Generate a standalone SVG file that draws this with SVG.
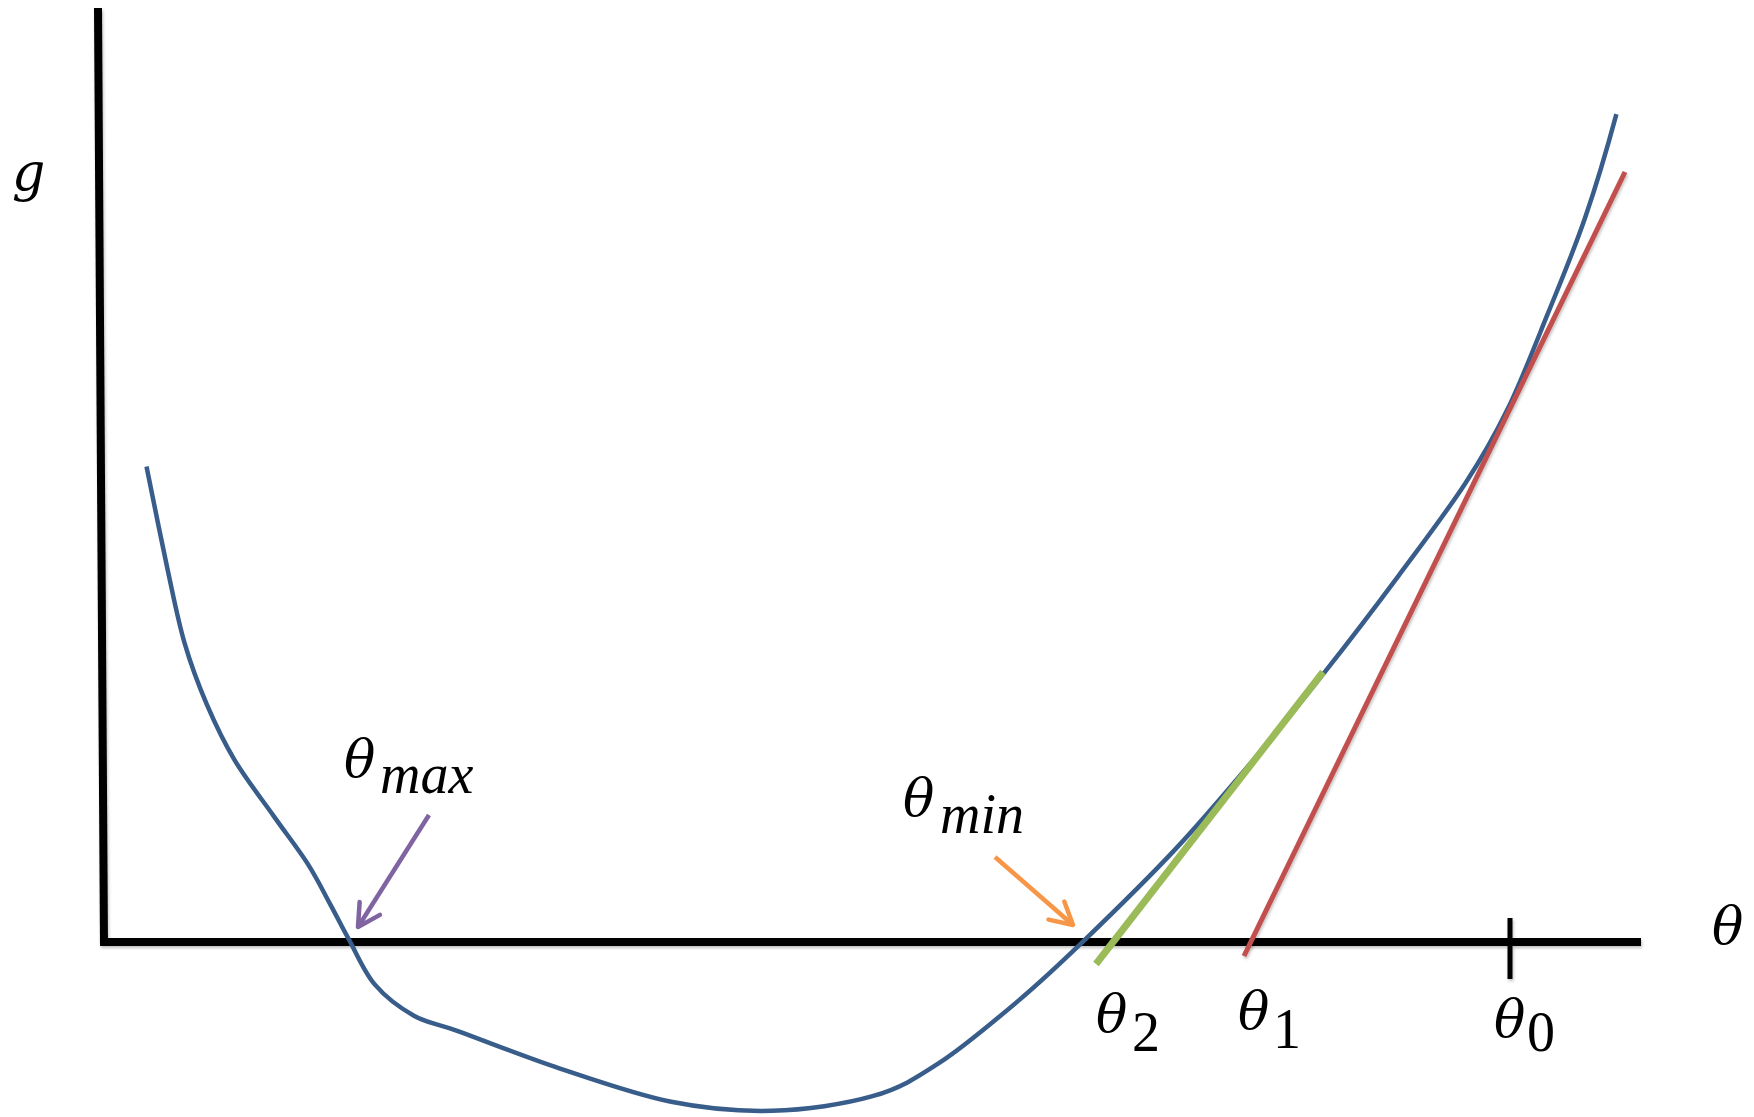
<svg xmlns="http://www.w3.org/2000/svg" width="1754" height="1117" viewBox="0 0 1754 1117">
<style>
.ax{stroke:#000;stroke-width:8;fill:none;stroke-linecap:butt}
.tick{stroke:#000;stroke-width:5;fill:none}
.curve{stroke:#385D8A;stroke-width:4.5;fill:none;stroke-linecap:butt}
.red{stroke:#C0504D;stroke-width:5;fill:none}
.green{stroke:#9BBB59;stroke-width:7;fill:none}
.th{font-family:"DejaVu Serif","Liberation Serif",serif;font-style:italic;font-size:52px;fill:#000}
.sub{font-family:"Liberation Serif","DejaVu Serif",serif;font-size:56px;fill:#000}
.subi{font-family:"Liberation Serif","DejaVu Serif",serif;font-style:italic;font-size:56px;fill:#000}
</style>
<defs>
<filter id="sh" x="-5%" y="-5%" width="110%" height="110%">
<feDropShadow dx="1" dy="2" stdDeviation="1.5" flood-color="#000" flood-opacity="0.25"/>
</filter>
<marker id="arP" markerUnits="userSpaceOnUse" viewBox="-28 -16 32 32" refX="0" refY="0" markerWidth="32" markerHeight="32" orient="auto">
<path d="M-22,-12 L0,0 L-22,12" fill="none" stroke="#8064A2" stroke-width="4.5" stroke-linecap="round" stroke-linejoin="round"/>
</marker>
<marker id="arO" markerUnits="userSpaceOnUse" viewBox="-28 -16 32 32" refX="0" refY="0" markerWidth="32" markerHeight="32" orient="auto">
<path d="M-22,-12 L0,0 L-22,12" fill="none" stroke="#F79646" stroke-width="4.5" stroke-linecap="round" stroke-linejoin="round"/>
</marker>
</defs>
<rect width="1754" height="1117" fill="#fff"/>
<g id="axes" filter="url(#sh)">
<line class="ax" x1="98" y1="8" x2="104" y2="946"/>
<line class="ax" x1="100" y1="942" x2="1641" y2="942"/>
<line class="tick" x1="1510" y1="918" x2="1510" y2="979"/>
</g>
<g id="curve">
<path class="curve" d="M146.5,466.5 C150.05,483.83 161.45,541.05 167.8,570.5 C174.15,599.95 178.08,620.83 184.6,643.2 C191.12,665.57 198.52,685.13 206.9,704.7 C215.28,724.27 223.7,741.95 234.9,760.6 C246.1,779.25 261.98,799.43 274.1,816.6 C286.22,833.77 298.28,849.07 307.6,863.6 C316.92,878.13 323.1,891.13 330,903.8 C336.9,916.47 341.55,926.17 349,939.6 C356.45,953.03 363.88,971.72 374.7,984.4 C385.52,997.08 399.92,1007.88 413.9,1015.7 C427.88,1023.52 434.37,1022.53 458.6,1031.3 C482.83,1040.07 523.87,1056.55 559.3,1068.3 C594.73,1080.05 635.78,1094.72 671.2,1101.8 C706.62,1108.88 738.25,1111.73 771.8,1110.8 C805.35,1109.87 844.53,1104.22 872.5,1096.2 C900.47,1088.18 915.37,1078.55 939.6,1062.7 C963.83,1046.85 993.67,1021.62 1017.9,1001.1 C1042.13,980.58 1058.9,964.77 1085,939.6 C1111.1,914.43 1146.53,879.93 1174.5,850.1 C1202.47,820.27 1227.63,790.42 1252.8,760.6 C1277.97,730.78 1301.25,701.95 1325.5,671.2 C1349.75,640.45 1374.98,607.43 1398.3,576.1 C1421.62,544.77 1447.12,511.17 1465.4,483.2 C1483.68,455.23 1494.23,436.63 1508,408.3 C1521.77,379.97 1535.17,344.9 1548,313.2 C1560.83,281.5 1573.6,251.28 1585,218.1 C1596.4,184.92 1611.73,131.43 1616.4,114.1"/>
</g>
<g id="tangent1" filter="url(#sh)">
<line class="red" x1="1244" y1="956" x2="1625" y2="172"/>
</g>
<g id="tangent2">
<line class="green" x1="1096" y1="964" x2="1323" y2="672"/>
</g>
<g id="label-g"><text class="th" x="12" y="190" font-size="56">g</text></g>
<g id="label-theta-axis"><text class="th" x="1712" y="944">θ</text></g>
<g id="label-theta-max"><text class="th" x="344" y="777">θ</text><text class="subi" x="380" y="793">max</text></g>
<g id="label-theta-min"><text class="th" x="903" y="816">θ</text><text class="subi" x="940" y="833">min</text></g>
<g id="label-theta-2"><text class="th" x="1096" y="1032">θ</text><text class="sub" x="1132" y="1051" font-size="52">2</text></g>
<g id="label-theta-1"><text class="th" x="1238" y="1029">θ</text><text class="sub" x="1273" y="1048" font-size="46">1</text></g>
<g id="label-theta-0"><text class="th" x="1494" y="1037">θ</text><text class="sub" x="1527" y="1051" font-size="58">0</text></g>
<g id="connectors">
<line x1="429" y1="815" x2="358" y2="927" stroke="#8064A2" stroke-width="4.5" marker-end="url(#arP)"/>
<line x1="995" y1="857" x2="1073" y2="925" stroke="#F79646" stroke-width="4.5" marker-end="url(#arO)"/>
</g>
</svg>
